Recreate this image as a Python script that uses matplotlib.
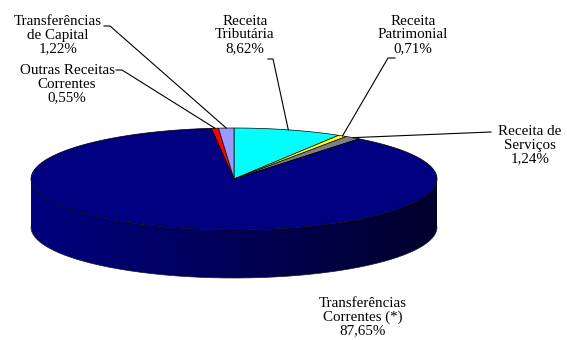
import numpy as np
import matplotlib.pyplot as plt
from matplotlib.colors import to_rgb
from matplotlib.patches import Polygon

# Revenue composition (percent of total)
categories = ["Receita\nTributária", "Receita\nPatrimonial", "Receita de\nServiços",
              "Transferências\nCorrentes (*)", "Outras Receitas\nCorrentes",
              "Transferências\nde Capital"]
shares = [8.62, 0.71, 1.24, 87.65, 0.55, 1.22]
colors = ["#00FFFF", "#FFFF00", "#808080", "#000080", "#FF0000", "#9999FF"]

# label block centres and leader-line elbows (pixel layout)
label_pos = [(245, 35), (413, 35), (530, 145), (363, 317), (67, 84), (58, 35)]
leader_start = [[(268, 59), (273, 59)],
                [(395, 58), (388, 58)],
                [(491, 132)],
                None,
                [(116, 70), (122, 70)],
                [(104, 26), (110, 26)]]

# pie geometry in pixel units
cx, cy, a, b, depth = 234.0, 179.0, 203.0, 51.0, 48.0

fig = plt.figure(figsize=(5.67, 3.4), dpi=100)
ax = fig.add_axes([0, 0, 1, 1])
ax.set_xlim(0, 567)
ax.set_ylim(340, 0)
ax.axis("off")


def ell(t):
    """Point on the top rim; t = clockwise angle from 12 o'clock (radians)."""
    return cx + a * np.sin(t), cy - b * np.cos(t)


total = sum(shares)
bounds = np.concatenate([[0], np.cumsum(shares)]) / total * 2 * np.pi

# side walls (front half only: angles between 90 and 270 degrees)
for i in range(len(shares)):
    t1 = max(bounds[i], np.pi / 2)
    t2 = min(bounds[i + 1], 3 * np.pi / 2)
    if t2 <= t1:
        continue
    ts = np.linspace(t1, t2, 300)
    xs, ys = ell(ts)
    verts = list(zip(xs, ys)) + list(zip(xs[::-1], ys[::-1] + depth))
    poly = Polygon(verts, closed=True, facecolor="none", edgecolor="none")
    ax.add_patch(poly)
    base = np.array(to_rgb(colors[i]))
    # shading darkens from left to right, one column per pixel
    ncol = int(2 * a)
    grad = np.linspace(1.0, 0.34, ncol)
    img = np.repeat((base[None, :] * grad[:, None])[None, :, :], 4, axis=0)
    im = ax.imshow(img, extent=(cx - a, cx + a, cy + b + depth + 2, cy - 2),
                   aspect="auto", interpolation="nearest", zorder=1)
    im.set_clip_path(poly)
    ax.plot(xs, ys + depth, color="#1a1a2a", lw=0.5, zorder=2)

# top faces
for i in range(len(shares)):
    ts = np.linspace(bounds[i], bounds[i + 1], max(int(shares[i] * 10), 10))
    xs, ys = ell(ts)
    verts = [(cx, cy)] + list(zip(xs, ys))
    ax.add_patch(Polygon(verts, closed=True, facecolor=colors[i],
                         edgecolor="black", lw=0.5, zorder=3))

# labels and leader lines
for i, (lab, v) in enumerate(zip(categories, shares)):
    txt = lab + "\n" + f"{v:.2f}".replace(".", ",") + "%"
    x, y = label_pos[i]
    ax.text(x, y, txt, ha="center", va="center", multialignment="center",
            fontsize=10.8, family="Liberation Serif", linespacing=1.04, zorder=5)
    if leader_start[i] is not None:
        mid = (bounds[i] + bounds[i + 1]) / 2
        ex, ey = ell(mid)
        pts = leader_start[i] + [(ex, ey)]
        ax.plot([p[0] for p in pts], [p[1] for p in pts], color="black",
                lw=0.8, zorder=4)

fig.savefig("out.png", dpi=100)
